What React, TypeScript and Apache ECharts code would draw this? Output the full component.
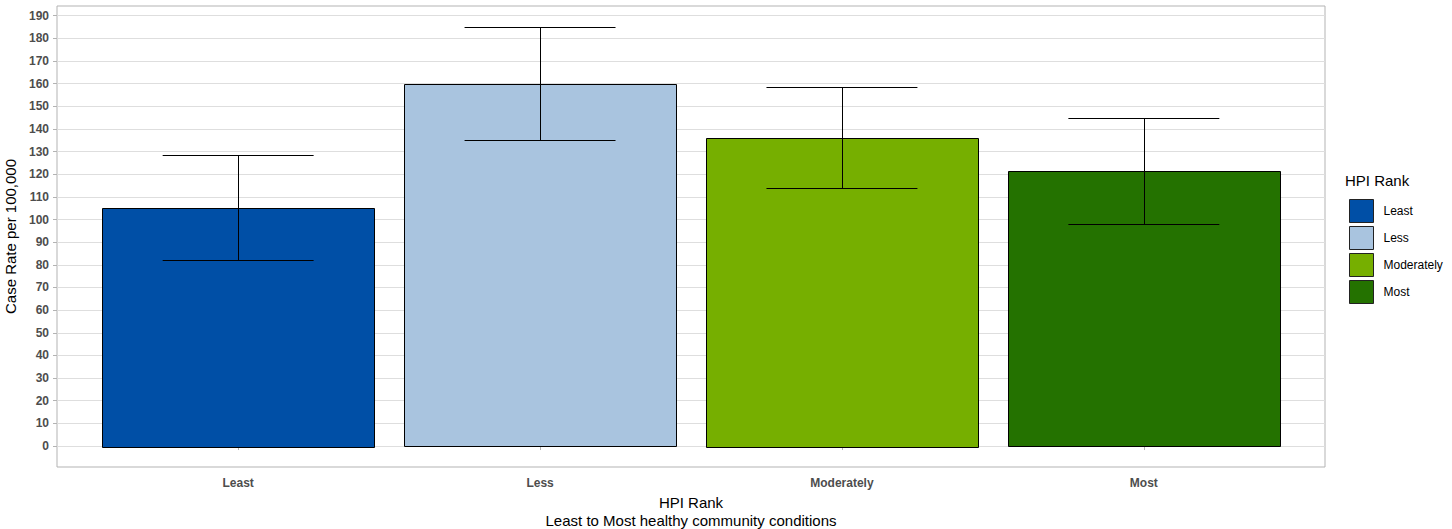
import React, { useEffect, useRef } from "react";
import * as echarts from "echarts";

const categories = ["Least", "Less", "Moderately", "Most"];
const caseRates = [105.3, 160.0, 136.2, 121.4];
const lowerCI = [82.3, 135.0, 113.9, 97.9];
const upperCI = [128.3, 185.0, 158.4, 145.0];
const fillColors = ["#004FA6", "#A9C4DF", "#76AF00", "#247200"];
const yTickValues = [0, 10, 20, 30, 40, 50, 60, 70, 80, 90, 100, 110, 120, 130, 140, 150, 160, 170, 180, 190];
const xPositions = [1, 2, 3, 4];

const FONT = "'Liberation Sans', Arial, sans-serif";

export default function App() {
  const ref = useRef<HTMLDivElement>(null);
  useEffect(() => {
    if (!ref.current) return;
    const chart = echarts.init(ref.current, null, { renderer: "svg" });
    const yMax = Math.max(...upperCI);
    const pad = yMax * 0.05;

    const renderItem = (params: any, api: any) => {
      const x = api.value(0);
      const y = api.value(1);
      const lo = api.value(2);
      const hi = api.value(3);
      const tl = api.coord([x - 0.45, y]);
      const br = api.coord([x + 0.45, 0]);
      const cHi = api.coord([x, hi]);
      const cLo = api.coord([x, lo]);
      const wl = api.coord([x - 0.25, hi])[0];
      const wr = api.coord([x + 0.25, hi])[0];
      const r = (v: number) => Math.round(v) + 0.5;
      const lineStyle = { stroke: "#000", lineWidth: 1 };
      return {
        type: "group",
        children: [
          {
            type: "rect",
            shape: { x: r(tl[0]), y: r(tl[1]), width: Math.round(br[0] - tl[0]), height: Math.round(br[1] - tl[1]) },
            style: { fill: api.visual("color"), stroke: "#000", lineWidth: 1 },
          },
          { type: "line", shape: { x1: r(cHi[0]), y1: r(cHi[1]), x2: r(cLo[0]), y2: r(cLo[1]) }, style: lineStyle },
          { type: "line", shape: { x1: wl, y1: r(cHi[1]), x2: wr, y2: r(cHi[1]) }, style: lineStyle },
          { type: "line", shape: { x1: wl, y1: r(cLo[1]), x2: wr, y2: r(cLo[1]) }, style: lineStyle },
        ],
      };
    };

    const series = categories.map((name, i) => ({
      type: "custom",
      name,
      renderItem,
      color: fillColors[i],
      itemStyle: { color: fillColors[i] },
      encode: { x: 0, y: 1 },
      data: [[xPositions[i], caseRates[i], lowerCI[i], upperCI[i]]],
    }));

    chart.setOption({
      animation: false,
      textStyle: { fontFamily: FONT },
      title: {
        text: "HPI Rank",
        left: 1345,
        top: 173,
        padding: 0,
        textStyle: { fontSize: 15, fontWeight: "normal", color: "#000", fontFamily: FONT },
      },
      legend: {
        orient: "vertical",
        left: 1349,
        top: 199,
        padding: 0,
        itemWidth: 24,
        itemHeight: 23,
        itemGap: 3,
        icon: "rect",
        data: categories,
        itemStyle: { borderColor: "#222", borderWidth: 1 },
        textStyle: { fontSize: 12, color: "#000", fontFamily: FONT, padding: [0, 0, 0, 5] },
      },
      grid: {
        left: 57,
        right: 127,
        top: 6,
        bottom: 62,
        containLabel: false,
        outerBoundsMode: "none",
        show: true,
        borderColor: "#b3b3b3",
        borderWidth: 1,
        backgroundColor: "transparent",
      },
      xAxis: {
        type: "value",
        min: 0.4,
        max: 4.6,
        axisLine: { show: false },
        splitLine: { show: false },
        axisTick: { show: true, length: 4, customValues: xPositions, lineStyle: { color: "#b3b3b3" } },
        axisLabel: {
          customValues: xPositions,
          formatter: (v: number) => categories[Math.round(v) - 1] ?? "",
          fontSize: 12,
          fontWeight: "bold",
          color: "#4d4d4d",
          margin: 10,
          fontFamily: FONT,
        },
        name: "HPI Rank\nLeast to Most healthy community conditions",
        nameLocation: "middle",
        nameGap: 26,
        nameTextStyle: { fontSize: 15, color: "#000", lineHeight: 18, fontFamily: FONT },
      },
      yAxis: {
        type: "value",
        min: -pad,
        max: yMax + pad,
        axisLine: { show: false },
        axisTick: { show: true, length: 4, customValues: yTickValues, lineStyle: { color: "#b3b3b3" } },
        splitLine: { show: true, lineStyle: { color: "#dedede", width: 1 } },
        axisLabel: {
          customValues: yTickValues,
          fontSize: 12,
          fontWeight: "bold",
          color: "#4d4d4d",
          margin: 8,
          fontFamily: FONT,
        },
        name: "Case Rate per 100,000",
        nameLocation: "middle",
        nameGap: 33,
        nameRotate: 90,
        nameTextStyle: { fontSize: 15, color: "#000", fontFamily: FONT },
      },
      series,
    });
    return () => chart.dispose();
  }, []);
  return <div ref={ref} style={{ width: 1452, height: 529, position: "absolute", left: 0, top: 0 }} />;
}
